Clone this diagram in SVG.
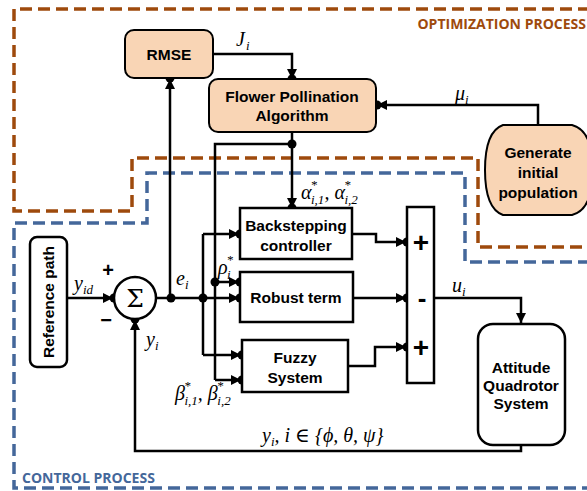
<svg xmlns="http://www.w3.org/2000/svg" width="587" height="491" viewBox="0 0 587 491">
<defs>
<marker id="ar" viewBox="0 0 10 10" refX="10" refY="5" markerWidth="4" markerHeight="4" orient="auto" markerUnits="strokeWidth">
<path d="M0,0 L10,5 L0,10 z" fill="#000"/>
</marker>
<style>
.box{fill:#fff;stroke:#000;stroke-width:2.5}
.peach{fill:#F9D5B5;stroke:#000;stroke-width:2}
.w{fill:none;stroke:#000;stroke-width:2.5}
.wa{fill:none;stroke:#000;stroke-width:2.5;marker-end:url(#ar)}
.t{font-family:"Liberation Sans",Arial,sans-serif;font-weight:bold;font-size:15.5px;text-anchor:middle;fill:#000}
.m{font-family:"Liberation Serif","DejaVu Serif",serif;font-style:italic;font-size:20px;fill:#000}
.ms{font-family:"Liberation Serif","DejaVu Serif",serif;font-style:italic;font-size:13px;fill:#000}
.dot{fill:#000}
.ob{fill:none;stroke:#9E4A0C;stroke-width:3.5;stroke-dasharray:12,6}
.bb{fill:none;stroke:#44679A;stroke-width:3.5;stroke-dasharray:12,6}
.sign{font-family:"Liberation Sans",Arial,sans-serif;font-weight:bold;fill:#000;text-anchor:middle}
</style>
</defs>

<g id="regions">
<path class="ob" d="M590,9 H14 V211 H132 V158 H478 V247 H590"/>
<path class="bb" d="M590,262 H465 V173 H147 V223 H14 V488 H590"/>
<text x="586" y="29" font-family="'Open Sans',sans-serif" font-weight="bold" font-size="14" fill="#9E4A0C" text-anchor="end">OPTIMIZATION PROCESS</text>
<text x="22" y="483" font-family="'Open Sans',sans-serif" font-weight="bold" font-size="14" fill="#44679A">CONTROL PROCESS</text>
</g>

<g id="connectors">
<path class="wa" d="M213,54 H292 V79"/>
<path class="wa" d="M538,125 V105 H377"/>
<path class="w" d="M292,132 V144"/>
<path class="wa" d="M292,144 V208"/>
<path class="w" d="M292,144 H215 V380"/>
<path class="wa" d="M215,380 H241"/>
<path class="wa" d="M215,282 H239"/>
<path class="wa" d="M67,298 H113"/>
<path class="wa" d="M156,298 H239"/>
<path class="wa" d="M170,298 V79"/>
<path class="w" d="M203,298 V234"/>
<path class="wa" d="M203,234 H239"/>
<path class="w" d="M203,298 V355"/>
<path class="wa" d="M203,355 H241"/>
<path class="wa" d="M352,234 H376 V242 H406"/>
<path class="wa" d="M353,298 H406"/>
<path class="wa" d="M348,366 H375 V347 H406"/>
<path class="wa" d="M434,298 H521 V323"/>
<path class="wa" d="M521,445 V451 H135 V320"/>
<circle class="dot" cx="292" cy="79" r="4.5"/>
<circle class="dot" cx="170" cy="78" r="4.5"/>
<circle class="dot" cx="377" cy="105" r="4.5"/>
<circle class="dot" cx="292" cy="144" r="4.5"/>
<circle class="dot" cx="292" cy="208" r="4.5"/>
<circle class="dot" cx="240" cy="234" r="4.5"/>
<circle class="dot" cx="240" cy="282" r="4.5"/>
<circle class="dot" cx="240" cy="298" r="4.5"/>
<circle class="dot" cx="242" cy="355" r="4.5"/>
<circle class="dot" cx="242" cy="380" r="4.5"/>
<circle class="dot" cx="215" cy="282" r="4.5"/>
<circle class="dot" cx="203" cy="298" r="4.5"/>
<circle class="dot" cx="171" cy="298" r="4.5"/>
<circle class="dot" cx="114" cy="298" r="4.5"/>
<circle class="dot" cx="135" cy="319" r="4.5"/>
<circle class="dot" cx="407" cy="242" r="4.5"/>
<circle class="dot" cx="407" cy="298" r="4.5"/>
<circle class="dot" cx="407" cy="347" r="4.5"/>
<text class="m" x="236" y="46">J<tspan class="ms" dx="1" dy="4">i</tspan></text>
<text class="m" x="455" y="100">μ<tspan class="ms" dy="4">i</tspan></text>
<text class="m" x="301" y="199">α<tspan class="ms" dx="-1" dy="-10">*</tspan><tspan class="ms" dx="-6" dy="15">i,1</tspan><tspan dy="-5">, α</tspan><tspan class="ms" dx="-1" dy="-10">*</tspan><tspan class="ms" dx="-6" dy="15">i,2</tspan></text>
<text class="m" x="218" y="274">ρ<tspan class="ms" dx="-1" dy="-10">*</tspan><tspan class="ms" dx="-6" dy="15">i</tspan></text>
<text class="m" x="175" y="400">β<tspan class="ms" dx="-1" dy="-10">*</tspan><tspan class="ms" dx="-6" dy="15">i,1</tspan><tspan dy="-5">, β</tspan><tspan class="ms" dx="-1" dy="-10">*</tspan><tspan class="ms" dx="-6" dy="15">i,2</tspan></text>
<text class="m" x="176" y="285">e<tspan class="ms" dy="4">i</tspan></text>
<text class="m" x="74" y="290">y<tspan class="ms" dy="4">id</tspan></text>
<text class="m" x="146" y="346">y<tspan class="ms" dy="4">i</tspan></text>
<text class="m" x="452" y="292">u<tspan class="ms" dy="4">i</tspan></text>
<text class="m" x="262" y="442">y<tspan class="ms" dy="4">i</tspan><tspan dy="-4">,  i ∈ {ϕ, θ, ψ}</tspan></text>
<text class="sign" x="108" y="277" font-size="20">+</text>
<text class="sign" x="106" y="327" font-size="20">−</text>
</g>

<g id="rmse">
<rect class="peach" x="125" y="30" width="88" height="48" rx="9"/>
<text class="t" x="169" y="60">RMSE</text>
</g>

<g id="fpa">
<rect class="peach" x="209" y="79" width="167" height="53" rx="9"/>
<text class="t" x="292" y="102">Flower Pollination</text>
<text class="t" x="292" y="121">Algorithm</text>
</g>

<g id="generate">
<path class="peach" d="M503,125 H572 C590,130 592,150 592,170 C592,190 590,210 572,215 H503 C489,210 485,190 485,170 C485,150 489,130 503,125 Z"/>
<text class="t" x="538" y="158">Generate</text>
<text class="t" x="538" y="178">initial</text>
<text class="t" x="538" y="198">population</text>
</g>

<g id="reference">
<rect class="box" x="30" y="237" width="37" height="130" rx="7"/>
<text class="t" transform="translate(54,302) rotate(-90)">Reference path</text>
</g>

<g id="sum">
<circle class="box" cx="135" cy="298" r="21"/>
<text x="135" y="307" font-family="'DejaVu Serif',serif" font-size="25" text-anchor="middle">Σ</text>
</g>

<g id="backstepping">
<rect class="box" x="240" y="208" width="112" height="51"/>
<text class="t" x="296" y="231">Backstepping</text>
<text class="t" x="296" y="251">controller</text>
</g>

<g id="robust">
<rect class="box" x="240" y="272" width="113" height="50"/>
<text class="t" x="296" y="303">Robust term</text>
</g>

<g id="fuzzy">
<rect class="box" x="242" y="340" width="106" height="52"/>
<text class="t" x="295" y="363">Fuzzy</text>
<text class="t" x="295" y="383">System</text>
</g>

<g id="summer">
<rect class="box" x="407" y="207" width="27" height="176"/>
<text class="sign" x="421" y="252" font-size="28">+</text>
<text class="sign" x="422" y="307" font-size="26">-</text>
<text class="sign" x="421" y="357" font-size="28">+</text>
</g>

<g id="attitude">
<rect class="box" x="478" y="324" width="87" height="121" rx="15"/>
<text class="t" x="521" y="373">Attitude</text>
<text class="t" x="521" y="391">Quadrotor</text>
<text class="t" x="521" y="409">System</text>
</g>
</svg>
